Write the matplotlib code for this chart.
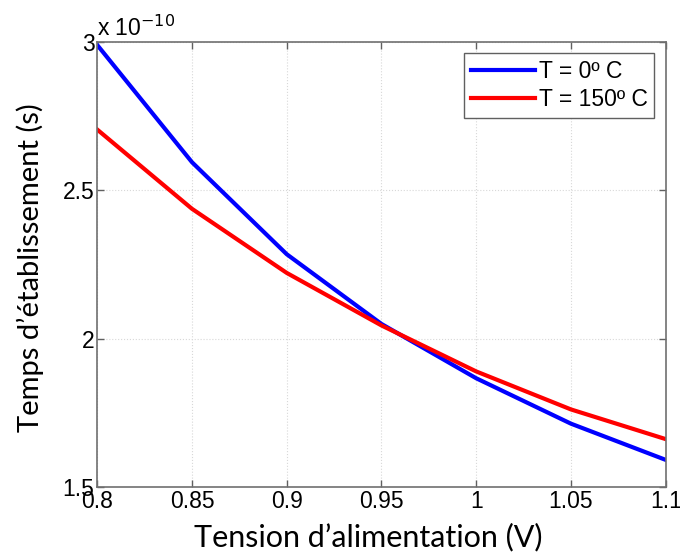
import matplotlib
matplotlib.use("Agg")
import matplotlib.pyplot as plt
import numpy as np

# supply voltage (V)
vdd = [0.8, 0.85, 0.9, 0.95, 1.0, 1.05, 1.1]
# settling time (s)
t_0C = np.array([2.99, 2.595, 2.285, 2.05, 1.867, 1.714, 1.592]) * 1e-10
t_150C = np.array([2.705, 2.438, 2.222, 2.045, 1.89, 1.762, 1.662]) * 1e-10
labels = ["T = 0º C", "T = 150º C"]
xticks = [0.8, 0.85, 0.9, 0.95, 1.0, 1.05, 1.1]
yticks = [1.5, 2, 2.5, 3]

tick_font = "Liberation Sans"
label_font = "Lato"
scale = 1e-10

fig = plt.figure(figsize=(6.8, 5.53), dpi=100)
ax = fig.add_axes([0.143, 0.119, 0.836, 0.805])

ax.plot(vdd, t_0C / scale, color="#0000ff", lw=3, label=labels[0])
ax.plot(vdd, t_150C / scale, color="#ff0000", lw=3, label=labels[1])

ax.set_xlim(0.8, 1.1)
ax.set_ylim(1.5, 3)
ax.set_xticks(xticks)
ax.set_xticklabels(["0.8", "0.85", "0.9", "0.95", "1", "1.05", "1.1"])
ax.set_yticks(yticks)
ax.set_yticklabels(["1.5", "2", "2.5", "3"])
ax.tick_params(direction="in", top=True, right=True, length=5, width=1,
               color="#606060", labelsize=16.5, pad=2)
for lab in ax.get_xticklabels() + ax.get_yticklabels():
    lab.set_family(tick_font)
ax.grid(True, linestyle=":", color="#d8d8d8", lw=0.8)
for s in ax.spines.values():
    s.set_color("#707070")
    s.set_linewidth(1.2)

ax.text(0.0, 1.003, "x 10$^{-10}$", transform=ax.transAxes, fontsize=16.5,
        family=tick_font, ha="left", va="bottom")

ax.set_xlabel("Tension d’alimentation (V)", fontsize=22, family=label_font)
ax.set_ylabel("Temps d’établissement (s)", fontsize=21, family=label_font)
ax.xaxis.set_label_coords(0.477, -0.08)
ax.yaxis.set_label_coords(-0.093, 0.494)

leg = ax.legend(loc="upper right", prop={"family": tick_font, "size": 16.5},
                handlelength=2.8, handletextpad=0.15, borderpad=0.3, labelspacing=0.2,
                fancybox=False, framealpha=1, borderaxespad=0.5)
leg.get_frame().set_edgecolor("#606060")
leg.get_frame().set_linewidth(1.0)

fig.savefig("out.png", dpi=100)
